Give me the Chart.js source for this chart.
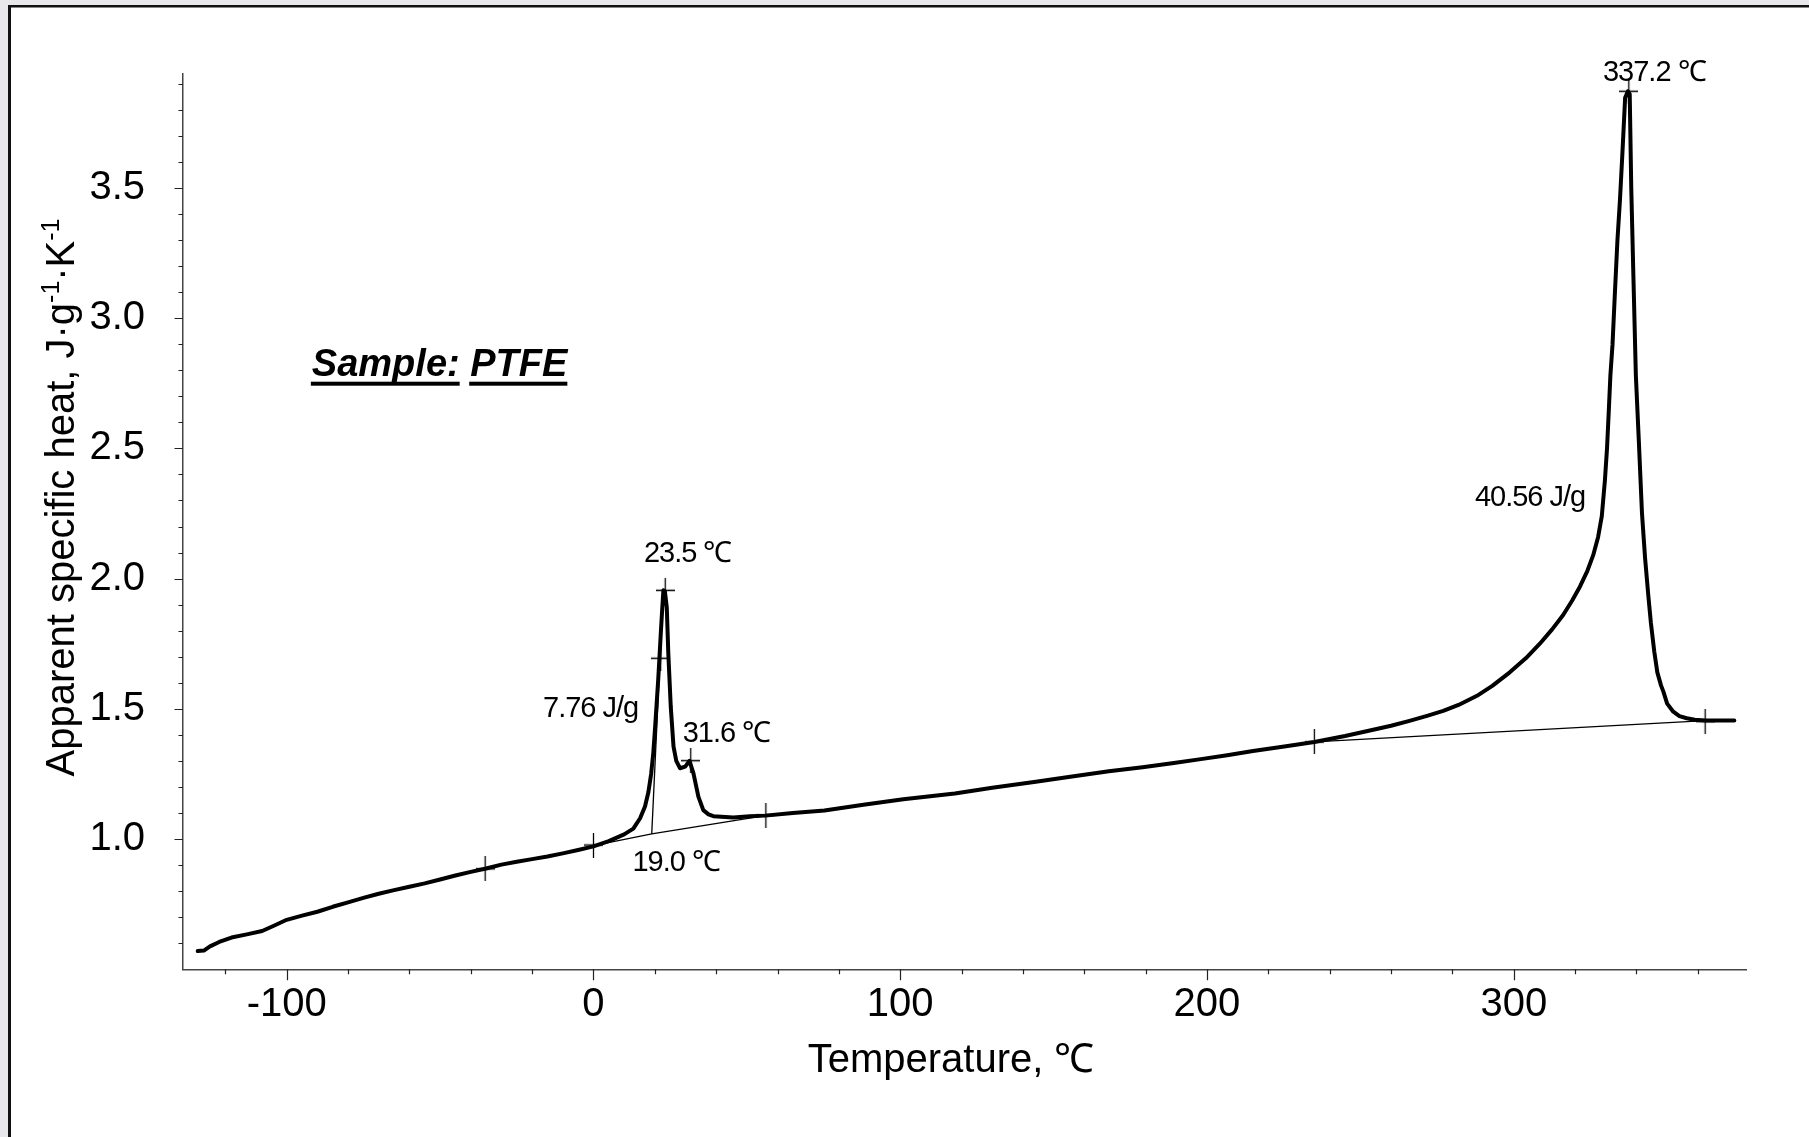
<!DOCTYPE html>
<html>
<head>
<meta charset="utf-8">
<script src="https://cdn.jsdelivr.net/npm/chart.js@4.4.0/dist/chart.umd.min.js"></script>
<style>
html,body{margin:0;padding:0;background:#fff;}
canvas{display:block;}
</style>
</head>
<body>
<canvas id="c" width="1809" height="1137"></canvas>
<script>
// ---------------- DATA ----------------
const tempC = [
  -129.0,-127.0,-125.0,-122.0,-118.0,-113.0,-108.0,-104.0,-100.0,-95.0,-90.0,-85.0,-80.0,-75.0,-70.0,-65.0,-60.0,-55.0,-50.0,-45.0,-40.0,-35.0,-30.0,-25.0,-20.0,-15.0,-10.0,-5.0,
  0.0,5.0,10.0,13.0,15.2,16.8,17.9,18.8,19.5,20.1,20.6,21.1,21.5,22.0,22.4,22.8,23.3,23.9,24.4,25.2,26.1,27.0,28.2,29.9,31.3,32.6,34.2,35.8,37.5,39.1,45.6,51.0,56.0,
  65.0,75.3,88.0,101.0,117.8,130.0,144.2,156.0,168.0,179.0,189.2,198.0,206.6,215.0,225.2,235.0,
  245.0,252.0,260.0,266.0,272.0,277.0,282.0,288.0,293.0,298.7,304.0,308.5,312.5,316.1,319.0,321.6,324.0,325.9,327.5,328.7,329.7,330.4,331.0,331.5,332.2,332.9,333.8,334.6,335.4,336.3,337.2,
  337.8,338.3,339.0,339.8,340.8,341.8,342.8,343.9,344.7,345.8,346.8,348.0,348.8,350.0,352.0,354.0,356.4,359.0,362.5,367.0,371.9
];
const cpApparent = [
  0.570,0.572,0.588,0.605,0.622,0.634,0.647,0.668,0.690,0.706,0.721,0.740,0.757,0.774,0.790,0.804,0.817,0.830,0.845,0.860,0.874,0.887,0.902,0.913,0.923,0.933,0.945,0.958,
  0.972,0.992,1.018,1.040,1.080,1.125,1.180,1.250,1.330,1.430,1.520,1.610,1.694,1.800,1.880,1.955,1.950,1.890,1.713,1.508,1.355,1.300,1.272,1.278,1.300,1.252,1.163,1.111,1.095,1.088,1.083,1.088,1.090,
  1.100,1.110,1.132,1.153,1.175,1.197,1.220,1.240,1.260,1.276,1.292,1.307,1.322,1.338,1.355,1.373,
  1.396,1.414,1.435,1.454,1.474,1.492,1.515,1.550,1.588,1.640,1.695,1.750,1.805,1.860,1.915,1.970,2.030,2.090,2.160,2.240,2.375,2.500,2.650,2.780,2.900,3.080,3.300,3.450,3.630,3.846,3.871,
  3.860,3.500,3.160,2.780,2.520,2.250,2.080,1.930,1.830,1.720,1.640,1.590,1.565,1.520,1.489,1.472,1.464,1.458,1.455,1.455,1.455
];
// integration baselines and onset tangent
const baseLowX = [0.0, 19.0, 56.0];
const baseLowY = [0.975, 1.020, 1.090];
const tangentX = [19.0, 21.8];
const tangentY = [1.020, 1.720];
const baseHighX = [235.0, 362.5];
const baseHighY = [1.373, 1.455];
// characteristic-point markers (+)
const markX = [-35.3, 0.0, 56.2, 21.9, 23.4, 31.7, 235.0, 362.4, 337.5];
const markY = [0.886, 0.977, 1.092, 1.694, 1.955, 1.301, 1.373, 1.451, 3.871];
// axis ticks
const xTickValues = [-100, 0, 100, 200, 300];
const xTickLabels = ['-100', '0', '100', '200', '300'];
const yTickValues = [1.0, 1.5, 2.0, 2.5, 3.0, 3.5];
const yTickLabels = ['1.0', '1.5', '2.0', '2.5', '3.0', '3.5'];
const xTitle = 'Temperature, ℃';
const yTitleParts = ['Apparent specific heat, J·g', '-1', '·K', '-1'];

// ---------------- ANNOTATIONS (data coordinates) ----------------
const annotations = [
  {text: '337.2 ℃', x: 345.8, y: 3.909, align: 'center'},
  {text: '23.5 ℃', x: 30.7, y: 2.065, align: 'center'},
  {text: '7.76 J/g', x: 14.6, y: 1.470, align: 'right'},
  {text: '31.6 ℃', x: 29.1, y: 1.374, align: 'left'},
  {text: '19.0 ℃', x: 12.7, y: 0.879, align: 'left'},
  {text: '40.56 J/g', x: 323.3, y: 2.279, align: 'right'}
];
const sampleLabel = {parts: ['Sample:', 'PTFE'], x: -91.8, y: 2.779};

const FONT = '"Liberation Sans", Arial, Helvetica, sans-serif';
const pts = (xs, ys) => xs.map((v, i) => ({x: v, y: ys[i]}));

// cross marker image
const cross = document.createElement('canvas');
cross.width = 19; cross.height = 25;
(function(){
  const g = cross.getContext('2d');
  g.strokeStyle = '#000'; g.lineWidth = 1.3;
  g.beginPath();
  g.moveTo(0, 12.5); g.lineTo(19, 12.5);
  g.moveTo(9.5, 0); g.lineTo(9.5, 25);
  g.stroke();
})();

const framePlugin = {
  id: 'frame',
  beforeDraw(chart) {
    const ctx = chart.ctx;
    ctx.save();
    ctx.fillStyle = '#ffffff';
    ctx.fillRect(0, 0, chart.width, chart.height);
    ctx.fillStyle = '#e8e8ea';
    ctx.fillRect(0, 0, 8, chart.height);
    ctx.fillRect(0, 0, chart.width, 5);
    ctx.fillStyle = '#111';
    ctx.fillRect(8, 5, 3, chart.height);
    ctx.fillRect(8, 5, chart.width, 2.5);
    ctx.restore();
  }
};

const extrasPlugin = {
  id: 'extras',
  afterDraw(chart) {
    const ctx = chart.ctx;
    const xs = chart.scales.x, ys = chart.scales.y;
    const area = chart.chartArea;
    ctx.save();
    // ticks
    ctx.strokeStyle = '#222';
    ctx.lineWidth = 1.2;
    ctx.beginPath();
    for (let v = -120; v <= 360; v += 20) {
      const px = Math.round(xs.getPixelForValue(v)) + 0.5;
      const len = xTickValues.includes(v) ? 11 : 5;
      ctx.moveTo(px, area.bottom);
      ctx.lineTo(px, area.bottom + len);
    }
    for (let i = 6; i <= 39; i++) {
      const v = i / 10;
      const py = Math.round(ys.getPixelForValue(v)) + 0.5;
      const len = (i % 5 === 0) ? 8.5 : 4.5;
      ctx.moveTo(area.left - len, py);
      ctx.lineTo(area.left, py);
    }
    ctx.stroke();

    // annotations
    ctx.fillStyle = '#000';
    ctx.font = '29px ' + FONT;
    ctx.textBaseline = 'alphabetic';
    try { ctx.letterSpacing = '-1px'; } catch (e) {}
    annotations.forEach(a => {
      ctx.textAlign = a.align;
      ctx.fillText(a.text, xs.getPixelForValue(a.x), ys.getPixelForValue(a.y));
    });
    try { ctx.letterSpacing = '0px'; } catch (e) {}

    // Sample label (bold italic, underlined words)
    ctx.font = 'italic bold 38px ' + FONT;
    ctx.textAlign = 'left';
    let sx = xs.getPixelForValue(sampleLabel.x);
    const sy = ys.getPixelForValue(sampleLabel.y);
    const spaceW = ctx.measureText(' ').width;
    sampleLabel.parts.forEach(p => {
      const w = ctx.measureText(p).width;
      ctx.fillText(p, sx, sy);
      ctx.fillRect(sx - 1, sy + 6, w + 1, 4);
      sx += w + spaceW;
    });

    // x axis title
    ctx.font = '40px ' + FONT;
    ctx.textAlign = 'left';
    ctx.fillText(xTitle, 807.7, 1071.7);

    // y axis title with superscripts
    const big = '40px ' + FONT, small = '25px ' + FONT;
    let total = 0;
    yTitleParts.forEach((p, i) => {
      ctx.font = (i % 2 === 1) ? small : big;
      total += ctx.measureText(p).width;
    });
    ctx.translate(73.5, 497.5);
    ctx.rotate(-Math.PI / 2);
    let tx = -total / 2;
    yTitleParts.forEach((p, i) => {
      const sup = (i % 2 === 1);
      ctx.font = sup ? small : big;
      ctx.fillText(p, tx, sup ? -15 : 0);
      tx += ctx.measureText(p).width;
    });
    ctx.restore();
  }
};

new Chart(document.getElementById('c'), {
  type: 'scatter',
  data: {
    datasets: [
      {
        label: 'markers',
        data: pts(markX, markY),
        pointStyle: cross,
        pointRadius: 10,
        showLine: false,
        order: 0
      },
      {
        label: 'Apparent specific heat',
        data: pts(tempC, cpApparent),
        showLine: true,
        borderColor: '#000',
        borderWidth: 4,
        borderJoinStyle: 'round',
        borderCapStyle: 'round',
        pointRadius: 0,
        tension: 0,
        order: 1
      },
      {
        label: 'baseline low',
        data: pts(baseLowX, baseLowY),
        showLine: true, borderColor: '#000', borderWidth: 1.3, pointRadius: 0, order: 2
      },
      {
        label: 'onset tangent',
        data: pts(tangentX, tangentY),
        showLine: true, borderColor: '#000', borderWidth: 1.3, pointRadius: 0, order: 2
      },
      {
        label: 'baseline high',
        data: pts(baseHighX, baseHighY),
        showLine: true, borderColor: '#000', borderWidth: 1.3, pointRadius: 0, order: 2
      }
    ]
  },
  options: {
    responsive: false,
    animation: false,
    devicePixelRatio: 1,
    layout: {padding: {top: 73.3, right: 62.4, bottom: 0, left: 0}},
    plugins: {legend: {display: false}, tooltip: {enabled: false}},
    scales: {
      x: {
        type: 'linear',
        min: -133.8,
        max: 375.9,
        afterBuildTicks: s => { s.ticks = xTickValues.map(v => ({value: v})); },
        afterFit: s => { s.height = 167.7; },
        ticks: {
          autoSkip: false, maxRotation: 0, padding: 12, color: '#000',
          font: {family: FONT, size: 40},
          callback: (v, i) => xTickLabels[i]
        },
        grid: {display: false, drawTicks: false},
        border: {display: true, color: '#444', width: 1.5}
      },
      y: {
        type: 'linear',
        min: 0.5,
        max: 3.94,
        afterBuildTicks: s => { s.ticks = yTickValues.map(v => ({value: v})); },
        afterFit: s => { s.width = 183; },
        ticks: {
          autoSkip: false, padding: 38, color: '#000',
          font: {family: FONT, size: 40},
          callback: (v, i) => yTickLabels[i]
        },
        grid: {display: false, drawTicks: false},
        border: {display: true, color: '#444', width: 1.5}
      }
    }
  },
  plugins: [framePlugin, extrasPlugin]
});
</script>
</body>
</html>
